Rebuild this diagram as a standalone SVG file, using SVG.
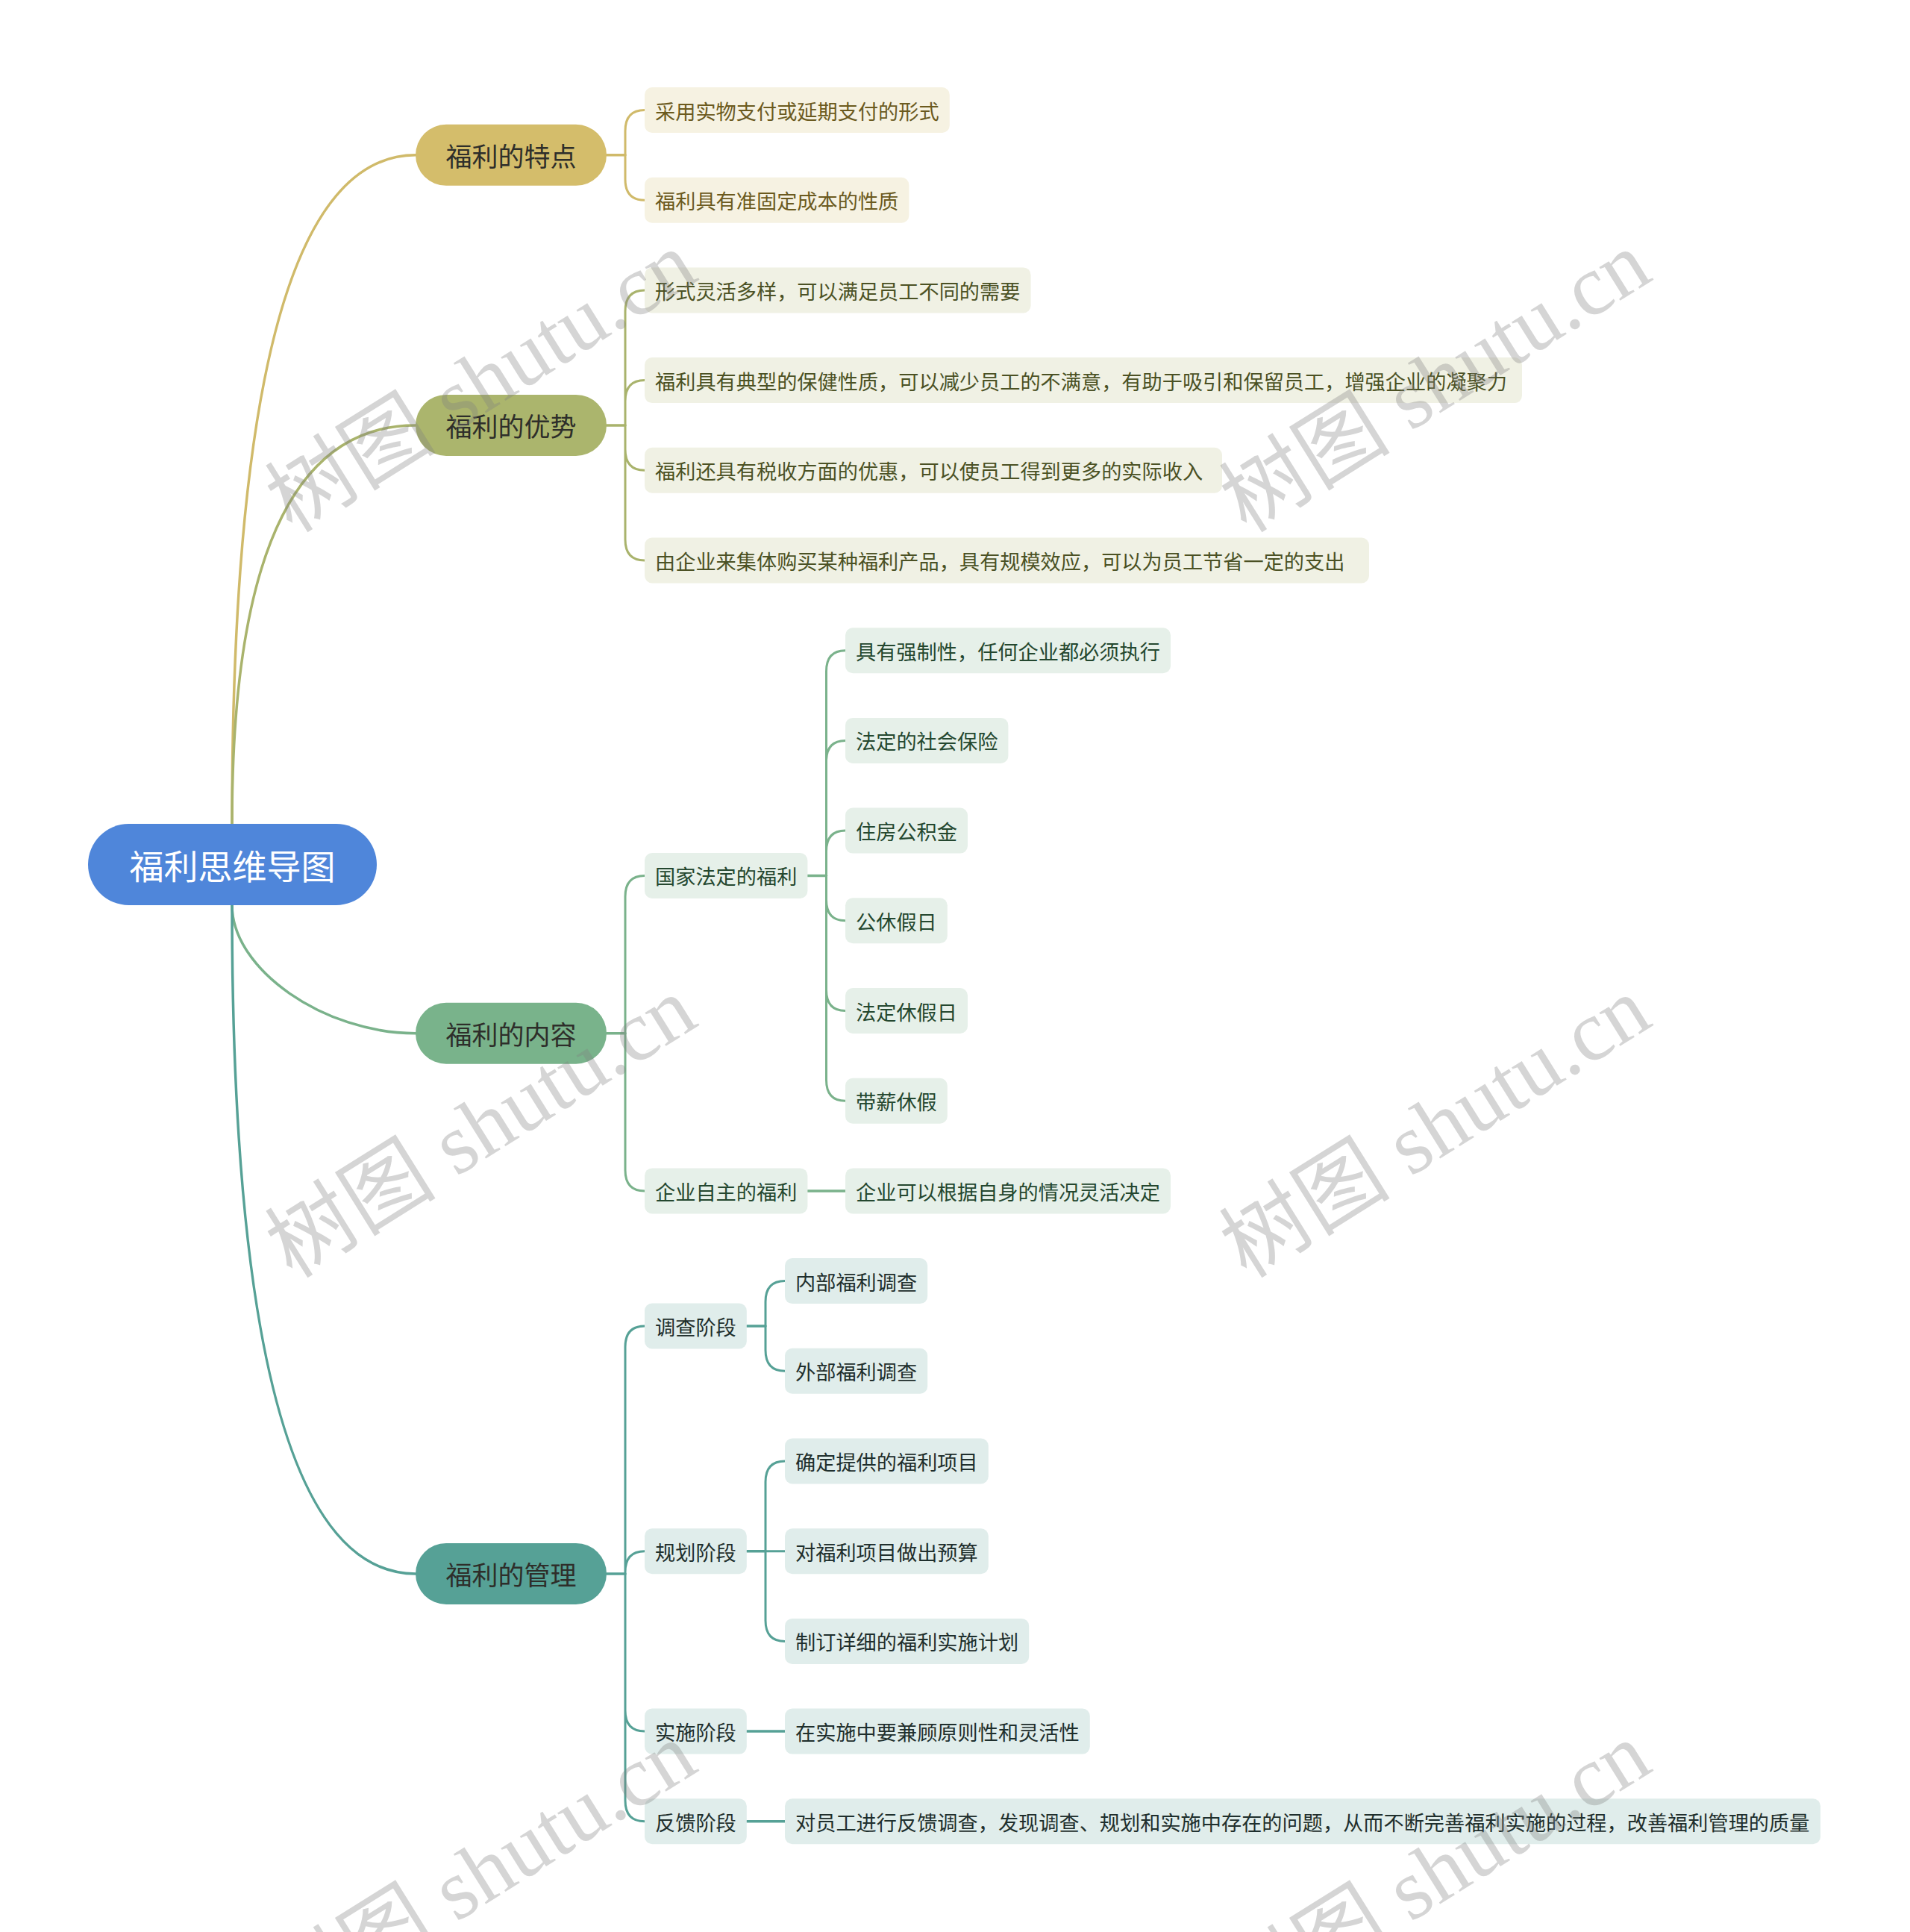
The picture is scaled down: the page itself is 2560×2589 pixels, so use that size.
<svg xmlns="http://www.w3.org/2000/svg" width="2560" height="2589" viewBox="0 0 2560 2589">
<style>
text{font-family:"Noto Sans CJK SC","Noto Sans",sans-serif;dominant-baseline:central}
.t2{font-size:27.2px}
.t1{font-size:35px;fill:#2e2e2a;text-anchor:middle}
.t0{font-size:46px;fill:#ffffff;text-anchor:middle}
.c{fill:none;stroke-linecap:round}
.cu{stroke-width:3.5}
.br{stroke-width:3}
.st{stroke-width:3.5}
.y{stroke:#d0ba6a}.o{stroke:#a9b36c}.g{stroke:#7ab28b}.m{stroke:#56a196}
.by{fill:#f6f2e2}.bo{fill:#f0f1e4}.bg{fill:#e6f0e9}.bm{fill:#e0edeb}
.ty{fill:#6b5a1e}.to{fill:#4b5124}.tg{fill:#24472f}.tm{fill:#1f2f2d}
.wm{font-family:"Liberation Serif","Noto Sans CJK SC",serif;font-size:115px;fill:#808080;fill-opacity:0.33;text-anchor:middle}
</style>
<rect width="2560" height="2589" fill="#ffffff"/>
<g id="connectors" class="c">
<path class="cu y" d="M311 1104 Q311 207.85 557 207.85"/>
<path class="cu o" d="M311 1104 Q311 569.95 557 569.95"/>
<path class="cu g" d="M311 1213 C311 1298.9 434 1384.7 557 1384.7"/>
<path class="cu m" d="M311 1213 Q311 2108.9 557 2108.9"/>
<path class="st y" d="M813 207.85 H838"/>
<path class="br y" d="M838 207.85 V175.5 Q838 147.5 864 147.5 M838 207.85 V240.2 Q838 268.2 864 268.2"/>
<path class="st o" d="M813 569.95 H838"/>
<path class="br o" d="M838 569.95 V416.9 Q838 388.9 864 388.9 M838 569.95 V537.6 Q838 509.6 864 509.6 M838 569.95 V602.3 Q838 630.3 864 630.3 M838 569.95 V723 Q838 751 864 751"/>
<path class="st g" d="M813 1384.7 H838"/>
<path class="br g" d="M838 1384.7 V1201.45 Q838 1173.45 864 1173.45 M838 1384.7 V1567.9 Q838 1595.9 864 1595.9"/>
<path class="st g" d="M1082.4 1173.45 H1107.5"/>
<path class="br g" d="M1107.5 1173.45 V899.7 Q1107.5 871.7 1133 871.7 M1107.5 1173.45 V1020.4 Q1107.5 992.4 1133 992.4 M1107.5 1173.45 V1141.1 Q1107.5 1113.1 1133 1113.1 M1107.5 1173.45 V1205.8 Q1107.5 1233.8 1133 1233.8 M1107.5 1173.45 V1326.5 Q1107.5 1354.5 1133 1354.5 M1107.5 1173.45 V1447.2 Q1107.5 1475.2 1133 1475.2"/>
<path class="st g" d="M1082.4 1595.9 H1133"/>
<path class="st m" d="M813 2108.9 H838"/>
<path class="br m" d="M838 2108.9 V1804.95 Q838 1776.95 864 1776.95 M838 2108.9 V2106.7 Q838 2078.7 864 2078.7 M838 2108.9 V2292.1 Q838 2320.1 864 2320.1 M838 2108.9 V2412.8 Q838 2440.8 864 2440.8"/>
<path class="st m" d="M1000.8 1776.95 H1026"/>
<path class="br m" d="M1026 1776.95 V1744.6 Q1026 1716.6 1052 1716.6 M1026 1776.95 V1809.3 Q1026 1837.3 1052 1837.3"/>
<path class="st m" d="M1000.8 2078.7 H1026"/>
<path class="br m" d="M1026 2078.7 V1986 Q1026 1958 1052 1958 M1026 2078.7 H1052 M1026 2078.7 V2171.4 Q1026 2199.4 1052 2199.4"/>
<path class="st m" d="M1000.8 2320.1 H1052"/>
<path class="st m" d="M1000.8 2440.8 H1052"/>
</g>
<g id="root">
<rect x="118" y="1104" width="387" height="109" rx="54.5" fill="#4f86da"/>
<text class="t0" x="311.5" y="1158.4">福利思维导图</text>
</g>
<g id="n-tedian">
<rect x="557" y="166.85" width="256" height="82" rx="41" fill="#d4bd6b"/>
<text class="t1" x="685" y="207.85">福利的特点</text>
</g>
<g id="n-youshi">
<rect x="557" y="528.95" width="256" height="82" rx="41" fill="#abb56d"/>
<text class="t1" x="685" y="569.95">福利的优势</text>
</g>
<g id="n-neirong">
<rect x="557" y="1343.7" width="256" height="82" rx="41" fill="#79b38b"/>
<text class="t1" x="685" y="1384.7">福利的内容</text>
</g>
<g id="n-guanli">
<rect x="557" y="2067.9" width="256" height="82" rx="41" fill="#56a196"/>
<text class="t1" x="685" y="2108.9">福利的管理</text>
</g>
<g id="a1"><rect class="by" x="864" y="117" width="408.8" height="61" rx="10"/><text class="t2 ty" x="878" y="147.5">采用实物支付或延期支付的形式</text></g>
<g id="a2"><rect class="by" x="864" y="237.7" width="354.4" height="61" rx="10"/><text class="t2 ty" x="878" y="268.2">福利具有准固定成本的性质</text></g>
<g id="b1"><rect class="bo" x="864" y="358.4" width="517.6" height="61" rx="10"/><text class="t2 to" x="878" y="388.9">形式灵活多样，可以满足员工不同的需要</text></g>
<g id="b2"><rect class="bo" x="864" y="479.1" width="1176" height="61" rx="10"/><text class="t2 to" x="878" y="509.6">福利具有典型的保健性质，可以减少员工的不满意，有助于吸引和保留员工，增强企业的凝聚力</text></g>
<g id="b3"><rect class="bo" x="864" y="599.8" width="774" height="61" rx="10"/><text class="t2 to" x="878" y="630.3">福利还具有税收方面的优惠，可以使员工得到更多的实际收入</text></g>
<g id="b4"><rect class="bo" x="864" y="720.5" width="971" height="61" rx="10"/><text class="t2 to" x="878" y="751">由企业来集体购买某种福利产品，具有规模效应，可以为员工节省一定的支出</text></g>
<g id="c1"><rect class="bg" x="864" y="1142.95" width="218.4" height="61" rx="10"/><text class="t2 tg" x="878" y="1173.45">国家法定的福利</text></g>
<g id="c1a"><rect class="bg" x="1133" y="841.2" width="436" height="61" rx="10"/><text class="t2 tg" x="1147" y="871.7">具有强制性，任何企业都必须执行</text></g>
<g id="c1b"><rect class="bg" x="1133" y="961.9" width="218.4" height="61" rx="10"/><text class="t2 tg" x="1147" y="992.4">法定的社会保险</text></g>
<g id="c1c"><rect class="bg" x="1133" y="1082.6" width="164" height="61" rx="10"/><text class="t2 tg" x="1147" y="1113.1">住房公积金</text></g>
<g id="c1d"><rect class="bg" x="1133" y="1203.3" width="136.8" height="61" rx="10"/><text class="t2 tg" x="1147" y="1233.8">公休假日</text></g>
<g id="c1e"><rect class="bg" x="1133" y="1324" width="164" height="61" rx="10"/><text class="t2 tg" x="1147" y="1354.5">法定休假日</text></g>
<g id="c1f"><rect class="bg" x="1133" y="1444.7" width="136.8" height="61" rx="10"/><text class="t2 tg" x="1147" y="1475.2">带薪休假</text></g>
<g id="c2"><rect class="bg" x="864" y="1565.4" width="218.4" height="61" rx="10"/><text class="t2 tg" x="878" y="1595.9">企业自主的福利</text></g>
<g id="c2a"><rect class="bg" x="1133" y="1565.4" width="436" height="61" rx="10"/><text class="t2 tg" x="1147" y="1595.9">企业可以根据自身的情况灵活决定</text></g>
<g id="d1"><rect class="bm" x="864" y="1746.45" width="136.8" height="61" rx="10"/><text class="t2 tm" x="878" y="1776.95">调查阶段</text></g>
<g id="d1a"><rect class="bm" x="1052" y="1686.1" width="191.2" height="61" rx="10"/><text class="t2 tm" x="1066" y="1716.6">内部福利调查</text></g>
<g id="d1b"><rect class="bm" x="1052" y="1806.8" width="191.2" height="61" rx="10"/><text class="t2 tm" x="1066" y="1837.3">外部福利调查</text></g>
<g id="d2"><rect class="bm" x="864" y="2048.2" width="136.8" height="61" rx="10"/><text class="t2 tm" x="878" y="2078.7">规划阶段</text></g>
<g id="d2a"><rect class="bm" x="1052" y="1927.5" width="272.8" height="61" rx="10"/><text class="t2 tm" x="1066" y="1958">确定提供的福利项目</text></g>
<g id="d2b"><rect class="bm" x="1052" y="2048.2" width="272.8" height="61" rx="10"/><text class="t2 tm" x="1066" y="2078.7">对福利项目做出预算</text></g>
<g id="d2c"><rect class="bm" x="1052" y="2168.9" width="327.2" height="61" rx="10"/><text class="t2 tm" x="1066" y="2199.4">制订详细的福利实施计划</text></g>
<g id="d3"><rect class="bm" x="864" y="2289.6" width="136.8" height="61" rx="10"/><text class="t2 tm" x="878" y="2320.1">实施阶段</text></g>
<g id="d3a"><rect class="bm" x="1052" y="2289.6" width="408.8" height="61" rx="10"/><text class="t2 tm" x="1066" y="2320.1">在实施中要兼顾原则性和灵活性</text></g>
<g id="d4"><rect class="bm" x="864" y="2410.3" width="136.8" height="61" rx="10"/><text class="t2 tm" x="878" y="2440.8">反馈阶段</text></g>
<g id="d4a"><rect class="bm" x="1052" y="2410.3" width="1388" height="61" rx="10"/><text class="t2 tm" x="1066" y="2440.8">对员工进行反馈调查，发现调查、规划和实施中存在的问题，从而不断完善福利实施的过程，改善福利管理的质量</text></g>
<g id="watermarks">
<text class="wm" transform="translate(645 512) rotate(-32)">树图 shutu.cn</text>
<text class="wm" transform="translate(1924 512) rotate(-32)">树图 shutu.cn</text>
<text class="wm" transform="translate(645 1511) rotate(-32)">树图 shutu.cn</text>
<text class="wm" transform="translate(1924 1511) rotate(-32)">树图 shutu.cn</text>
<text class="wm" transform="translate(645 2510) rotate(-32)">树图 shutu.cn</text>
<text class="wm" transform="translate(1924 2510) rotate(-32)">树图 shutu.cn</text>
</g>
</svg>
